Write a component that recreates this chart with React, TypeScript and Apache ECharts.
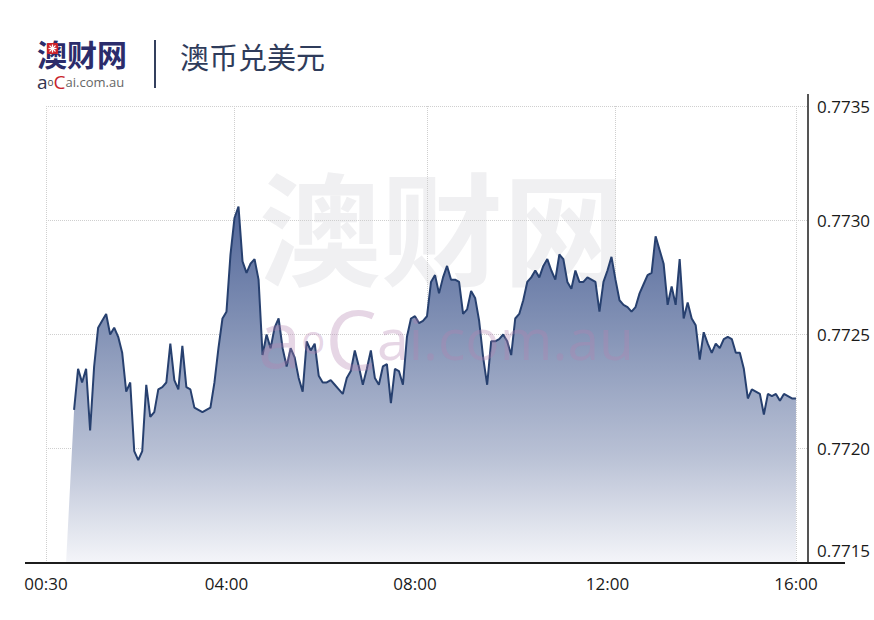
import React, { useEffect, useRef } from "react";
import * as echarts from "echarts";

// ---- data ----
const tickLabels = ["00:30", "04:00", "08:00", "12:00", "16:00"];
const tickMinutes = [30, 240, 480, 720, 960];
const tickIndex = [0, 45, 92, 140, 187];
const gridIndex = [0, 47, 95, 142, 187];
const slotCount = 191;
const yMin = 0.7715;
const yMax = 0.7735;
const yStep = 0.0005;
const fillStartIndex = 5;
const fillStartValue = 0.7715;
const firstRateIndex = 7;
const rates = [
  0.77217, 0.77235, 0.77229, 0.77235, 0.77208, 0.77236, 0.77253, 0.77256, 0.77259, 0.7725,
  0.77253, 0.77249, 0.77242, 0.77225, 0.77229, 0.77199, 0.77195, 0.77199, 0.77228, 0.77214,
  0.77216, 0.77226, 0.77227, 0.77229, 0.77246, 0.7723, 0.77226, 0.77245, 0.77227, 0.77226,
  0.77218, 0.77217, 0.77216, 0.77217, 0.77218, 0.77229, 0.77244, 0.77257, 0.7726, 0.77285,
  0.77301, 0.77306, 0.77282, 0.77277, 0.77281, 0.77283, 0.77274, 0.77241, 0.7725, 0.77244,
  0.77253, 0.77257, 0.77244, 0.77236, 0.77244, 0.7724, 0.77231, 0.77225, 0.77247, 0.77243,
  0.77246, 0.77232, 0.77229, 0.77229, 0.7723, 0.77228, 0.77226, 0.77224, 0.77231, 0.77234,
  0.77243, 0.77236, 0.77228, 0.77235, 0.77243, 0.77231, 0.77228, 0.77236, 0.77237, 0.7722,
  0.77235, 0.77234, 0.77228, 0.77249, 0.77257, 0.77258, 0.77255, 0.77256, 0.77258, 0.77273,
  0.77276, 0.77268, 0.77275, 0.7728, 0.77274, 0.77274, 0.77273, 0.77259, 0.77261, 0.77269,
  0.77266, 0.77256, 0.7724, 0.77228, 0.77247, 0.77247, 0.77248, 0.7725, 0.77247, 0.77241,
  0.77257, 0.77259, 0.77265, 0.77273, 0.77275, 0.77278, 0.77275, 0.7728, 0.77283, 0.77278,
  0.77274, 0.77285, 0.77283, 0.77273, 0.7727, 0.77278, 0.77273, 0.77273, 0.77275, 0.77274,
  0.77273, 0.7726, 0.77273, 0.77278, 0.77284, 0.77274, 0.77265, 0.77263, 0.77262, 0.7726,
  0.77262, 0.77268, 0.77272, 0.77276, 0.77277, 0.77293, 0.77287, 0.77281, 0.77263, 0.77271,
  0.77263, 0.77283, 0.77257, 0.77264, 0.77257, 0.77254, 0.77239, 0.77251, 0.77246, 0.77242,
  0.77246, 0.77244, 0.77248, 0.77249, 0.77248, 0.77242, 0.77242, 0.77235, 0.77222, 0.77226,
  0.77225, 0.77224, 0.77215, 0.77224, 0.77223, 0.77224, 0.77221, 0.77224, 0.77223, 0.77222,
  0.77222,
];

const pad = (n: number) => String(n).padStart(2, "0");
const categories: string[] = Array.from({ length: slotCount }, (_, i) => {
  let k = 0;
  while (k < tickIndex.length - 2 && i > tickIndex[k + 1]) k++;
  const i0 = tickIndex[k];
  const i1 = tickIndex[k + 1];
  const m = tickMinutes[k] + ((i - i0) * (tickMinutes[k + 1] - tickMinutes[k])) / (i1 - i0);
  const mm = Math.round(m);
  return `${pad(Math.floor(mm / 60))}:${pad(mm % 60)}`;
});

const lineData: (number | string)[] = categories.map((_, i) =>
  i >= firstRateIndex && i < firstRateIndex + rates.length ? rates[i - firstRateIndex] : "-"
);
const areaData: (number | string)[] = lineData.map((v, i) => (i === fillStartIndex ? fillStartValue : v));
const lastRate = rates[rates.length - 1];

const wm = "rgba(180,130,175,0.33)";

export default function App() {
  const ref = useRef<HTMLDivElement>(null);
  useEffect(() => {
    if (!ref.current) return;
    const chart = echarts.init(ref.current, null, { renderer: "svg" });
    const axisFont = "Open Sans";
    chart.setOption({
      animation: false,
      backgroundColor: "#ffffff",
      grid: { left: 46, right: 66, top: 106, bottom: 57 },
      xAxis: {
        type: "category",
        data: categories,
        boundaryGap: false,
        axisLine: { show: false },
        axisTick: { show: false },
        axisLabel: {
          interval: (_i: number, v: string) => tickLabels.includes(v),
          color: "#1a1a1a",
          fontSize: 17,
          fontFamily: axisFont,
          margin: 12,
        },
        splitLine: {
          show: true,
          interval: (i: number) => gridIndex.includes(i),
          lineStyle: { type: "dotted", color: "#cfcfcf", width: 1 },
        },
      },
      yAxis: {
        type: "value",
        position: "right",
        min: yMin,
        max: yMax,
        interval: yStep,
        axisLine: { show: false },
        axisTick: { show: false },
        axisLabel: {
          margin: 9,
          color: "#1a1a1a",
          fontSize: 17,
          fontFamily: axisFont,
          formatter: (v: number) => {
            const s = v.toFixed(4);
            return Math.abs(v - yMin) < 1e-9 ? `{low|${s}}` : s;
          },
          rich: {
            low: { padding: [0, 0, 26, 0], fontSize: 17, fontFamily: axisFont, color: "#1a1a1a" },
          },
        },
        splitLine: { lineStyle: { type: "dotted", color: "#cfcfcf", width: 1 } },
      },
      series: [
        {
          type: "line",
          data: areaData,
          connectNulls: true,
          symbol: "none",
          silent: true,
          lineStyle: { width: 0 },
          areaStyle: {
            color: new echarts.graphic.LinearGradient(0, 0, 0, 1, [
              { offset: 0, color: "#52679a" },
              { offset: 0.35, color: "#8493b6" },
              { offset: 0.7, color: "#b9c1d5" },
              { offset: 1, color: "#f4f5f9" },
            ]),
            opacity: 1,
          },
          z: 2,
        },
        {
          type: "line",
          data: lineData,
          symbol: "none",
          lineStyle: { color: "#27406f", width: 2 },
          z: 3,
          markLine: {
            silent: true,
            symbol: "none",
            lineStyle: { opacity: 0 },
            label: {
              position: "end",
              formatter: lastRate.toFixed(4),
              color: "#4b5876",
              fontSize: 17,
              fontFamily: axisFont,
              distance: 9,
              offset: [0, -9],
            },
            data: [{ yAxis: lastRate }],
          },
        },
      ],
      graphic: [
        {
          type: "text",
          z: -1,
          silent: true,
          style: {
            text: "澳财网",
            x: 442,
            y: 222,
            align: "center",
            verticalAlign: "middle",
            font: 'bold 122px "Noto Sans CJK SC"',
            lineHeight: 122,
            fill: "#f0f0f2",
          },
        },
        {
          type: "text",
          z: 100,
          silent: true,
          style: {
            text: "{a|a}{o|o}{c|C}{r|ai.com.au}",
            x: 446,
            y: 338,
            align: "center",
            verticalAlign: "middle",
            fill: wm,
            rich: {
              a: { fontSize: 78, lineHeight: 56, fontFamily: "Open Sans", fill: wm },
              o: { fontSize: 40, lineHeight: 56, fontFamily: "Open Sans", fill: wm },
              c: { fontSize: 82, lineHeight: 56, fontFamily: "Open Sans", fill: wm },
              r: { fontSize: 57, lineHeight: 56, fontFamily: "Open Sans", fill: wm },
            },
          },
        },
        {
          type: "text",
          z: 100,
          style: {
            text: "澳财网",
            x: 37,
            y: 53,
            verticalAlign: "middle",
            font: 'bold 30px "Noto Sans CJK SC"',
            lineHeight: 30,
            fill: "#2b2c6b",
          },
        },
        {
          type: "rect",
          z: 101,
          shape: { x: 47, y: 43, width: 11, height: 11, r: 1 },
          style: { fill: "#cc2229" },
        },
        {
          type: "group",
          z: 102,
          children: [
            { type: "line", z: 102, shape: { x1: 52.5, y1: 44.5, x2: 52.5, y2: 52.5 }, style: { stroke: "#fff", lineWidth: 1.3 } },
            { type: "line", z: 102, shape: { x1: 48.5, y1: 48.5, x2: 56.5, y2: 48.5 }, style: { stroke: "#fff", lineWidth: 1.3 } },
            { type: "line", z: 102, shape: { x1: 49.5, y1: 45.5, x2: 55.5, y2: 51.5 }, style: { stroke: "#fff", lineWidth: 1.1 } },
            { type: "line", z: 102, shape: { x1: 55.5, y1: 45.5, x2: 49.5, y2: 51.5 }, style: { stroke: "#fff", lineWidth: 1.1 } },
          ],
        },
        {
          type: "text",
          z: 100,
          style: {
            text: "{a|a}{o|o}{c|C}{r|ai.com.au}",
            x: 37,
            y: 82,
            verticalAlign: "middle",
            rich: {
              a: { fontSize: 19, lineHeight: 14, fontFamily: "Open Sans", fill: "#33344f" },
              o: { fontSize: 10, lineHeight: 14, fontFamily: "Open Sans", fill: "#444444" },
              c: { fontSize: 19, lineHeight: 14, fontFamily: "Open Sans", fill: "#c9242c" },
              r: { fontSize: 13, lineHeight: 14, fontFamily: "Open Sans", fill: "#666666" },
            },
          },
        },
        {
          type: "line",
          z: 100,
          shape: { x1: 155, y1: 40, x2: 155, y2: 88 },
          style: { stroke: "#34405e", lineWidth: 2 },
        },
        {
          type: "text",
          z: 100,
          style: {
            text: "澳币兑美元",
            x: 180,
            y: 56,
            verticalAlign: "middle",
            font: '29px "Noto Sans CJK SC"',
            fill: "#2f3c5b",
          },
        },
        {
          type: "line",
          z: 100,
          shape: { x1: 25, y1: 563, x2: 845, y2: 563 },
          style: { stroke: "#1c1c1c", lineWidth: 2 },
        },
        {
          type: "line",
          z: 100,
          shape: { x1: 808, y1: 94, x2: 808, y2: 563 },
          style: { stroke: "#1c1c1c", lineWidth: 1.5 },
        },
      ],
    });
    return () => chart.dispose();
  }, []);
  return (
    <div
      ref={ref}
      style={{ position: "fixed", left: 0, top: 0, width: 874, height: 620, background: "#fff" }}
    />
  );
}
